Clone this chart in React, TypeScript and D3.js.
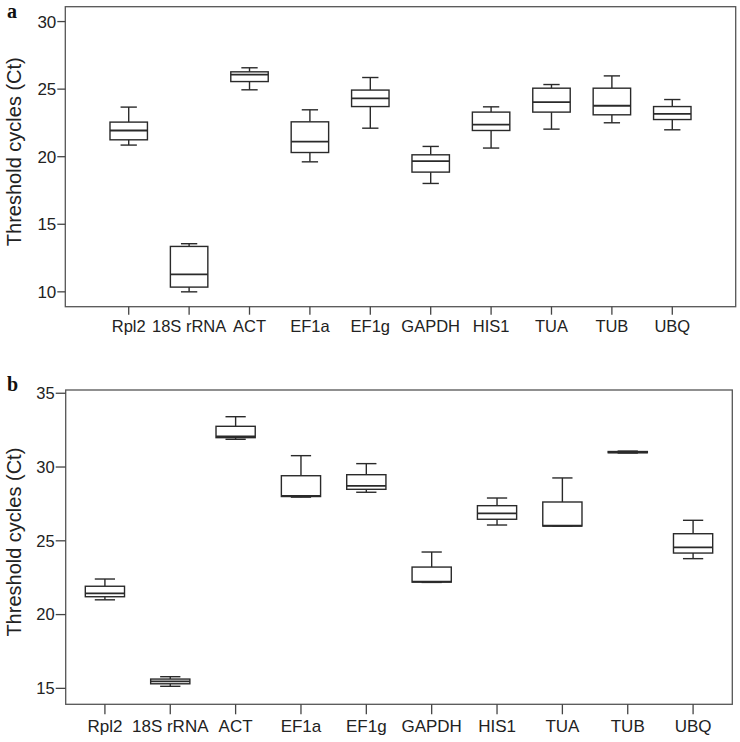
import React from "react";
import * as d3 from "d3";

const categories = ["Rpl2", "18S rRNA", "ACT", "EF1a", "EF1g", "GAPDH", "HIS1", "TUA", "TUB", "UBQ"];

// Panel a
const aTicks = [10, 15, 20, 25, 30];
const aMin = [20.86, 10.0, 24.95, 19.62, 22.11, 18.02, 20.64, 22.04, 22.51, 21.99];
const aQ1 = [21.25, 10.35, 25.56, 20.31, 23.71, 18.86, 21.94, 23.3, 23.1, 22.75];
const aMed = [21.94, 11.29, 26.08, 21.12, 24.31, 19.67, 22.38, 24.04, 23.77, 23.17];
const aQ3 = [22.56, 13.36, 26.28, 22.58, 24.93, 20.14, 23.3, 25.07, 25.07, 23.71];
const aMax = [23.67, 13.56, 26.58, 23.47, 25.86, 20.76, 23.69, 25.34, 25.98, 24.23];

// Panel b
const bTicks = [15, 20, 25, 30, 35];
const bMin = [21.0, 15.14, 31.88, 27.96, 28.29, 22.18, 26.07, 26.0, 30.95, 23.79];
const bQ1 = [21.21, 15.31, 31.99, 28.0, 28.49, 22.2, 26.46, 26.0, 30.97, 24.17];
const bMed = [21.44, 15.47, 32.08, 28.04, 28.72, 22.23, 26.86, 26.02, 31.0, 24.56];
const bQ3 = [21.92, 15.63, 32.76, 29.41, 29.48, 23.22, 27.38, 27.63, 31.05, 25.48];
const bMax = [22.41, 15.79, 33.41, 30.77, 30.23, 24.24, 27.9, 29.26, 31.08, 26.39];

const yTitle = "Threshold cycles (Ct)";

type PanelProps = {
  letter: string;
  x0: number; x1: number; y0: number; y1: number;
  domain: [number, number];
  padding: number;
  ticks: number[];
  mins: number[]; q1s: number[]; meds: number[]; q3s: number[]; maxs: number[];
  boxFrac: number; capFrac: number;
  yTick: number; xTick: number; tickFont: number; xFont: number;
  xLabelY: number; letterY: number;
};

const LINE = "#2a2a2a";
const FONT = "'Liberation Sans', Arial, sans-serif";

function Panel(p: PanelProps) {
  const x = d3.scalePoint<string>().domain(categories).range([p.x0, p.x1]).padding(p.padding);
  const y = d3.scaleLinear().domain(p.domain).range([p.y1, p.y0]);
  const step = x.step();
  const bw = step * p.boxFrac;
  const cw = step * p.capFrac;
  return (
    <g>
      <text x={7} y={p.letterY} fontFamily="'Liberation Serif', 'Times New Roman', serif" fontWeight="bold" fontSize={20} fill="#111">{p.letter}</text>
      <rect x={p.x0} y={p.y0} width={p.x1 - p.x0} height={p.y1 - p.y0} fill="none" stroke="#555" strokeWidth={1.3} />
      {p.ticks.map((t) => (
        <g key={t}>
          <line x1={p.x0 - p.yTick} x2={p.x0} y1={y(t)} y2={y(t)} stroke="#444" strokeWidth={1.3} />
          <text x={p.x0 - p.yTick - 1} y={y(t)} dy="0.35em" textAnchor="end" fontFamily={FONT} fontSize={p.tickFont} fill="#222">{t}</text>
        </g>
      ))}
      {categories.map((c) => (
        <g key={c}>
          <line x1={x(c)} x2={x(c)} y1={p.y1} y2={p.y1 + p.xTick} stroke="#444" strokeWidth={1.3} />
          <text x={x(c)} y={p.xLabelY} textAnchor="middle" fontFamily={FONT} fontSize={p.xFont} fill="#222">{c}</text>
        </g>
      ))}
      <text transform={`translate(21,${(p.y0 + p.y1) / 2 - 5}) rotate(-90)`} textAnchor="middle" fontFamily={FONT} fontSize={20} fill="#222">{yTitle}</text>
      {categories.map((c, i) => {
        const cx = x(c) as number;
        return (
          <g key={c} stroke={LINE} strokeWidth={1.4} fill="none">
            <line x1={cx} x2={cx} y1={y(p.maxs[i])} y2={y(p.q3s[i])} />
            <line x1={cx} x2={cx} y1={y(p.q1s[i])} y2={y(p.mins[i])} />
            <line x1={cx - cw / 2} x2={cx + cw / 2} y1={y(p.maxs[i])} y2={y(p.maxs[i])} />
            <line x1={cx - cw / 2} x2={cx + cw / 2} y1={y(p.mins[i])} y2={y(p.mins[i])} />
            <rect x={cx - bw / 2} y={y(p.q3s[i])} width={bw} height={Math.max(0.5, y(p.q1s[i]) - y(p.q3s[i]))} fill="#fff" />
            <line x1={cx - bw / 2} x2={cx + bw / 2} y1={y(p.meds[i])} y2={y(p.meds[i])} strokeWidth={1.8} />
          </g>
        );
      })}
    </g>
  );
}

export default function App() {
  return (
    <svg width={740} height={742} style={{ position: "absolute", left: 0, top: 0, background: "#fff" }}>
      <rect width={740} height={742} fill="#fff" />
      <Panel
        letter="a" x0={65.3} x1={735.7} y0={6.7} y1={306.7} domain={[8.9, 31.1]} padding={1.05}
        ticks={aTicks} mins={aMin} q1s={aQ1} meds={aMed} q3s={aQ3} maxs={aMax}
        boxFrac={0.62} capFrac={0.27} yTick={8} xTick={8} tickFont={17} xFont={16.5}
        xLabelY={331.5} letterY={18}
      />
      <Panel
        letter="b" x0={65.7} x1={732.3} y0={390} y1={704.3} domain={[13.92, 35.22]} padding={0.6}
        ticks={bTicks} mins={bMin} q1s={bQ1} meds={bMed} q3s={bQ3} maxs={bMax}
        boxFrac={0.6} capFrac={0.31} yTick={10} xTick={10} tickFont={16.5} xFont={17}
        xLabelY={731.5} letterY={391}
      />
    </svg>
  );
}
